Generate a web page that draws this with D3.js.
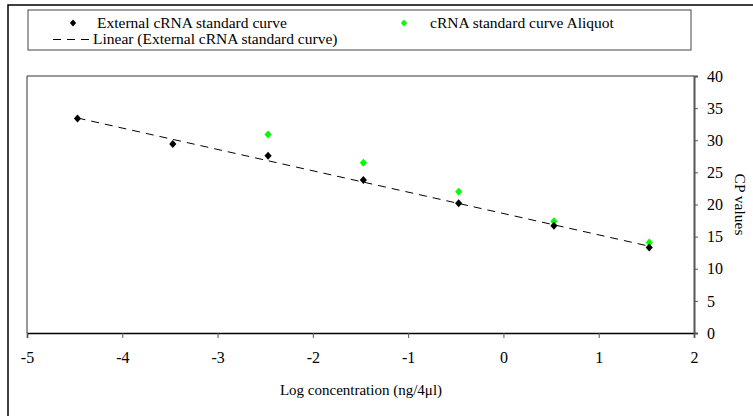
<!DOCTYPE html>
<html lang="en">
<head>
<meta charset="UTF-8">
<title>CP values vs log concentration</title>
<script src="https://d3js.org/d3.v7.min.js"></script>
<style>
    body { margin: 0; background: #fff; }
</style>
</head>
<body>
<svg id="main" width="753" height="416"></svg>
<script>
    // external cRNA standard curve
    const extLog = [-4.47, -3.47, -2.47, -1.47, -0.47, 0.53, 1.53];
    const extCP = [33.4, 29.4, 27.6, 23.8, 20.2, 16.7, 13.3];
    // aliquot
    const aliLog = [-2.47, -1.47, -0.47, 0.53, 1.53];
    const aliCP = [30.9, 26.5, 22.0, 17.4, 14.1];

    const xTicks = [-5, -4, -3, -2, -1, 0, 1, 2];
    const yTicks = [0, 5, 10, 15, 20, 25, 30, 35, 40];

    const serif = '"Liberation Serif", "Times New Roman", serif';

    let svg = d3.select('svg#main').attr('font-family', serif);
    let plotL = 27, plotR = 694, plotT = 76, plotB = 333;

    let x = d3.scaleLinear().domain([-5, 2]).range([plotL, plotR]);
    let y = d3.scaleLinear().domain([0, 40]).range([plotB, plotT]);

    // outer frame
    svg.append('rect').attr('x', 8).attr('y', 5).attr('width', 770).attr('height', 430)
        .attr('fill', 'none').attr('stroke', '#000').attr('stroke-width', 1.5);

    // plot box top + left
    svg.append('path').attr('d', `M${plotL},${plotB}V${plotT}H${plotR}`)
        .attr('fill', 'none').attr('stroke', '#333').attr('stroke-width', 1);

    // x axis
    let xAxis = svg.append('g').attr('transform', `translate(0,${plotB})`)
        .call(d3.axisBottom(x).tickValues(xTicks).tickSize(5).tickPadding(14).tickFormat(d => String(d)));
    xAxis.attr('font-family', serif).attr('font-size', 16);
    xAxis.select('.domain').attr('stroke', '#000').attr('stroke-width', 1.5);
    xAxis.selectAll('.tick line').attr('stroke', '#555');

    // y axis on the right
    let yAxis = svg.append('g').attr('transform', `translate(${plotR},0)`)
        .call(d3.axisRight(y).tickValues(yTicks).tickSize(4).tickPadding(9).tickFormat(d => String(d)));
    yAxis.attr('font-family', serif).attr('font-size', 16);
    yAxis.select('.domain').attr('stroke', '#555').attr('stroke-width', 2);
    yAxis.selectAll('.tick line').attr('stroke', '#555');

    svg.append('text').attr('x', 361).attr('y', 395)
        .attr('text-anchor', 'middle').attr('font-size', 15)
        .text('Log concentration (ng/4μl)');
    svg.append('text').attr('transform', `translate(735,${(plotT + plotB) / 2}) rotate(90)`)
        .attr('text-anchor', 'middle').attr('font-size', 15.5)
        .text('CP values');

    // linear trendline of the external curve
    let mx = d3.mean(extLog), my = d3.mean(extCP);
    let slope = d3.sum(extLog, (v, i) => (v - mx) * (extCP[i] - my)) / d3.sum(extLog, v => (v - mx) * (v - mx));
    let icpt = my - slope * mx;
    let x0 = d3.min(extLog), x1 = d3.max(extLog);
    svg.append('line')
        .attr('x1', x(x0)).attr('y1', y(icpt + slope * x0))
        .attr('x2', x(x1)).attr('y2', y(icpt + slope * x1))
        .attr('stroke', '#000').attr('stroke-width', 1).attr('stroke-dasharray', '8,6');

    function diamond(r) {
        return `M0,${-r}L${r * 0.9},0L0,${r}L${-r * 0.9},0Z`;
    }

    svg.selectAll('.ali').data(aliLog).enter().append('path')
        .attr('class', 'ali')
        .attr('d', diamond(4))
        .attr('fill', '#00ff00')
        .attr('transform', (d, i) => `translate(${x(d)},${y(aliCP[i])})`);

    svg.selectAll('.ext').data(extLog).enter().append('path')
        .attr('class', 'ext')
        .attr('d', diamond(4))
        .attr('fill', '#000')
        .attr('transform', (d, i) => `translate(${x(d)},${y(extCP[i])})`);

    // legend
    let lg = svg.append('g').attr('font-size', 15.5);
    lg.append('rect').attr('x', 28).attr('y', 10).attr('width', 663).attr('height', 40)
        .attr('fill', '#fff').attr('stroke', '#444').attr('stroke-width', 1);
    lg.append('path').attr('d', diamond(3.5)).attr('fill', '#000').attr('transform', 'translate(73,23)');
    lg.append('text').attr('x', 97).attr('y', 28).text('External cRNA standard curve');
    lg.append('path').attr('d', diamond(3.5)).attr('fill', '#00ff00').attr('transform', 'translate(404,23)');
    lg.append('text').attr('x', 430).attr('y', 28).text('cRNA standard curve Aliquot');
    lg.append('line').attr('x1', 53).attr('x2', 91).attr('y1', 39.5).attr('y2', 39.5)
        .attr('stroke', '#000').attr('stroke-width', 1).attr('stroke-dasharray', '8,6');
    lg.append('text').attr('x', 93).attr('y', 44).text('Linear (External cRNA standard curve)');
</script>
</body>
</html>
